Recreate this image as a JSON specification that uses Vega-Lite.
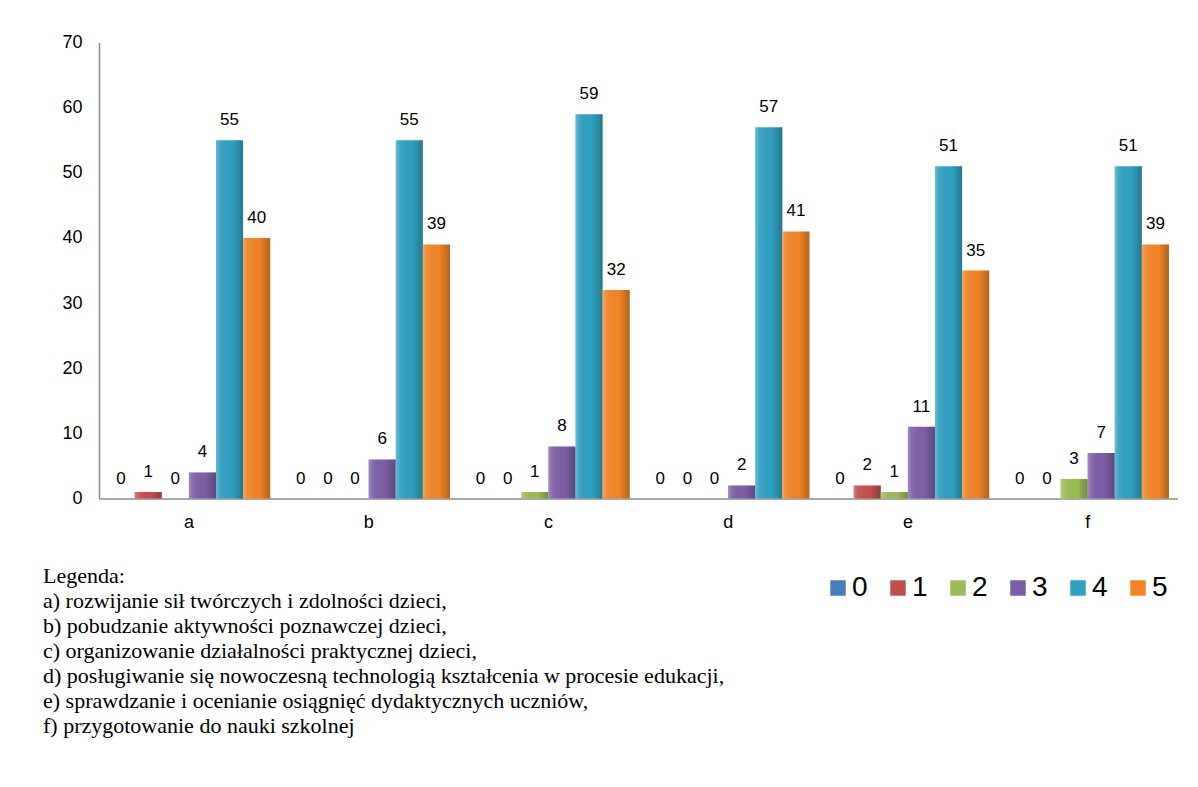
{
  "$schema": "https://vega.github.io/schema/vega-lite/v6.json",
  "width": 1078.5,
  "height": 456,
  "autosize": {"type": "none"},
  "padding": {"left": 99, "top": 42.5, "right": 20.5, "bottom": 288.5},
  "background": "white",
  "data": {
    "values": [
      {"kategoria": "a", "ocena": "0", "liczba": 0},
      {"kategoria": "a", "ocena": "1", "liczba": 1},
      {"kategoria": "a", "ocena": "2", "liczba": 0},
      {"kategoria": "a", "ocena": "3", "liczba": 4},
      {"kategoria": "a", "ocena": "4", "liczba": 55},
      {"kategoria": "a", "ocena": "5", "liczba": 40},
      {"kategoria": "b", "ocena": "0", "liczba": 0},
      {"kategoria": "b", "ocena": "1", "liczba": 0},
      {"kategoria": "b", "ocena": "2", "liczba": 0},
      {"kategoria": "b", "ocena": "3", "liczba": 6},
      {"kategoria": "b", "ocena": "4", "liczba": 55},
      {"kategoria": "b", "ocena": "5", "liczba": 39},
      {"kategoria": "c", "ocena": "0", "liczba": 0},
      {"kategoria": "c", "ocena": "1", "liczba": 0},
      {"kategoria": "c", "ocena": "2", "liczba": 1},
      {"kategoria": "c", "ocena": "3", "liczba": 8},
      {"kategoria": "c", "ocena": "4", "liczba": 59},
      {"kategoria": "c", "ocena": "5", "liczba": 32},
      {"kategoria": "d", "ocena": "0", "liczba": 0},
      {"kategoria": "d", "ocena": "1", "liczba": 0},
      {"kategoria": "d", "ocena": "2", "liczba": 0},
      {"kategoria": "d", "ocena": "3", "liczba": 2},
      {"kategoria": "d", "ocena": "4", "liczba": 57},
      {"kategoria": "d", "ocena": "5", "liczba": 41},
      {"kategoria": "e", "ocena": "0", "liczba": 0},
      {"kategoria": "e", "ocena": "1", "liczba": 2},
      {"kategoria": "e", "ocena": "2", "liczba": 1},
      {"kategoria": "e", "ocena": "3", "liczba": 11},
      {"kategoria": "e", "ocena": "4", "liczba": 51},
      {"kategoria": "e", "ocena": "5", "liczba": 35},
      {"kategoria": "f", "ocena": "0", "liczba": 0},
      {"kategoria": "f", "ocena": "1", "liczba": 0},
      {"kategoria": "f", "ocena": "2", "liczba": 3},
      {"kategoria": "f", "ocena": "3", "liczba": 7},
      {"kategoria": "f", "ocena": "4", "liczba": 51},
      {"kategoria": "f", "ocena": "5", "liczba": 39}
    ]
  },
  "title": {
    "text": [
      "Legenda:",
      "a) rozwijanie sił twórczych  i zdolności dzieci,",
      "b) pobudzanie aktywności poznawczej dzieci,",
      "c) organizowanie działalności praktycznej dzieci,",
      "d) posługiwanie się nowoczesną technologią kształcenia w procesie edukacji,",
      "e) sprawdzanie i ocenianie osiągnięć dydaktycznych uczniów,",
      "f) przygotowanie do nauki szkolnej"
    ],
    "orient": "bottom",
    "anchor": "start",
    "frame": "group",
    "dx": -56,
    "offset": -36,
    "font": "Liberation Serif",
    "fontSize": 22,
    "fontWeight": "normal",
    "lineHeight": 25,
    "color": "black"
  },
  "encoding": {
    "x": {
      "field": "kategoria",
      "type": "nominal",
      "scale": {"paddingInner": 0.095, "paddingOuter": 0.0475},
      "axis": {
        "title": null,
        "ticks": false,
        "labelAngle": 0,
        "labelPadding": 15,
        "labelFont": "Liberation Sans",
        "labelFontSize": 18,
        "labelColor": "black",
        "domainColor": "#8c8c8c",
        "domainWidth": 1.5
      }
    },
    "xOffset": {"field": "ocena", "type": "nominal", "sort": ["0", "1", "2", "3", "4", "5"], "scale": {"paddingInner": 0, "paddingOuter": 0}},
    "y": {
      "field": "liczba",
      "type": "quantitative",
      "scale": {"domain": [0, 70], "nice": false},
      "axis": {
        "title": null,
        "grid": false,
        "ticks": false,
        "values": [0, 10, 20, 30, 40, 50, 60, 70],
        "labelPadding": 17,
        "labelFont": "Liberation Sans",
        "labelFontSize": 18,
        "labelColor": "black",
        "domainColor": "#8c8c8c",
        "domainWidth": 1.5
      }
    }
  },
  "layer": [
    {
      "mark": {"type": "bar"},
      "encoding": {
        "color": {
          "field": "ocena",
          "type": "nominal",
          "scale": {
            "domain": ["0", "1", "2", "3", "4", "5"],
            "range": ["#4a7ebb", "#c0504d", "#9bbb59", "#7d5fa6", "#30a0c0", "#f08426"]
          },
          "legend": {
            "orient": "none",
            "legendX": 725,
            "legendY": 531.5,
            "direction": "horizontal",
            "title": null,
            "symbolType": "square",
            "symbolSize": 240,
            "symbolStrokeWidth": 0,
            "symbolOpacity": 1,
            "labelFont": "Liberation Sans",
            "labelFontSize": 28,
            "labelColor": "black",
            "labelOffset": 0,
            "columnPadding": 16,
            "padding": 0
          }
        }
      }
    },
    {
      "mark": {
        "type": "bar",
        "color": {
          "gradient": "linear",
          "x1": 0, "y1": 0, "x2": 1, "y2": 0,
          "stops": [
            {"offset": 0, "color": "rgba(255,255,255,0.28)"},
            {"offset": 0.15, "color": "rgba(255,255,255,0.08)"},
            {"offset": 0.6, "color": "rgba(0,0,0,0)"},
            {"offset": 1, "color": "rgba(0,0,0,0.25)"}
          ]
        }
      }
    },
    {
      "mark": {
        "type": "text",
        "baseline": "middle",
        "dy": -20,
        "font": "Liberation Sans",
        "fontSize": 17,
        "color": "black"
      },
      "encoding": {"text": {"field": "liczba", "type": "quantitative"}}
    }
  ],
  "config": {"view": {"stroke": null}}
}
